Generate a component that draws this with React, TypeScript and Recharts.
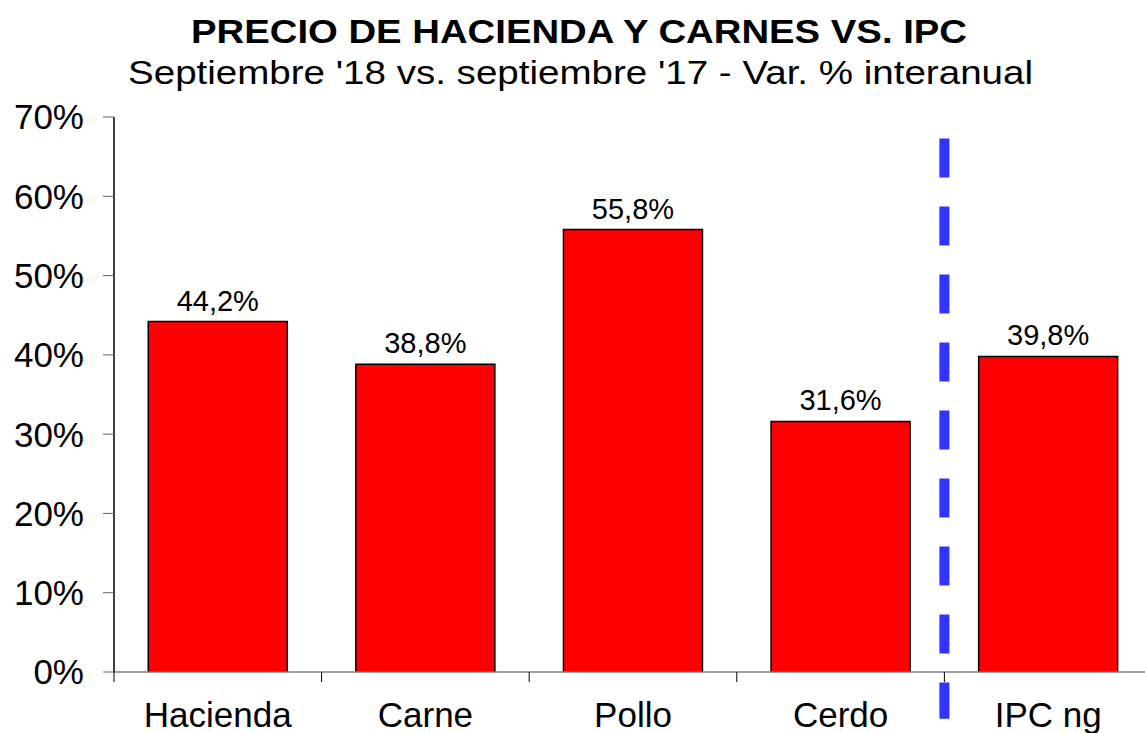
import React from "react";
import { BarChart, Bar, XAxis, YAxis, LabelList, ReferenceLine } from "recharts";

const CATEGORIES = ["Hacienda", "Carne", "Pollo", "Cerdo", "IPC ng"];
const VAR_INTERANUAL = [44.2, 38.8, 55.8, 31.6, 39.8];
const Y_TICKS = [0, 10, 20, 30, 40, 50, 60, 70];

// separador punteado antes de "IPC ng" (de 67,3% hasta por debajo del eje)
const DIVIDER_AT = "IPC ng";
const DIVIDER_RANGE = [67.3, -5.9];

const TITLE = "PRECIO DE HACIENDA Y CARNES VS. IPC";
const SUBTITLE = "Septiembre '18 vs. septiembre '17 - Var. % interanual";

const FONT = "'Liberation Sans', Arial, Helvetica, sans-serif";
const TICK_SIZE = 10;
const TICK_MARGIN = 20;

const data = CATEGORIES.map((name, i) => ({ name, value: VAR_INTERANUAL[i] }));

const fmtPct = (v: number) => v.toFixed(1).replace(".", ",") + "%";

// Etiqueta de categoría + marcas del eje en los límites entre categorías
function CategoryTick(props: any) {
  const { x, y, payload, index, visibleTicksCount } = props;
  const half = payload?.offset ?? 0;
  const axisY = y - TICK_SIZE - TICK_MARGIN;
  const isLast = index === visibleTicksCount - 1;
  return (
    <g>
      <line x1={x - half} x2={x - half} y1={axisY} y2={axisY + TICK_SIZE} stroke="#000" />
      {isLast && (
        <line x1={x + half} x2={x + half} y1={axisY} y2={axisY + TICK_SIZE} stroke="#000" />
      )}
      <text
        x={x}
        y={y}
        dy="0.71em"
        textAnchor="middle"
        fontSize={35}
        fontFamily={FONT}
        fill="#000"
      >
        {payload.value}
      </text>
    </g>
  );
}

export default function App() {
  return (
    <div
      style={{
        position: "relative",
        width: 1145,
        height: 733,
        overflow: "hidden",
        background: "#fff",
        fontFamily: FONT,
      }}
    >
      <style>{"body{margin:0;overflow:hidden}"}</style>
      <div style={{ position: "absolute", left: 0, top: 0 }}>
        <BarChart
          width={1152}
          height={733}
          data={data}
          margin={{ top: 117, right: 0, bottom: 0, left: 0 }}
          barCategoryGap="16.5%"
        >
          <XAxis
            dataKey="name"
            height={61}
            axisLine={{ stroke: "#808080", strokeWidth: 1.5 }}
            tickLine={false}
            tickSize={TICK_SIZE}
            tickMargin={TICK_MARGIN}
            tick={<CategoryTick />}
            interval={0}
          />
          <YAxis
            width={114}
            domain={[0, 70]}
            ticks={Y_TICKS}
            tickFormatter={(v: number) => `${v}%`}
            axisLine={{ stroke: "#000", strokeWidth: 1.5 }}
            tickLine={{ stroke: "#666" }}
            tickSize={11}
            tickMargin={19}
            tick={{ fontSize: 35, fill: "#000", fontFamily: FONT }}
            allowDataOverflow
          />
          <Bar
            dataKey="value"
            fill="#FF0000"
            stroke="#000"
            strokeWidth={1.5}
            isAnimationActive={false}
          >
            <LabelList
              dataKey="value"
              position="top"
              offset={11}
              formatter={(v: any) => fmtPct(Number(v))}
              fill="#000"
              fontSize={29}
              fontFamily={FONT}
            />
          </Bar>
          <ReferenceLine
            segment={[
              { x: DIVIDER_AT, y: DIVIDER_RANGE[0] },
              { x: DIVIDER_AT, y: DIVIDER_RANGE[1] },
            ]}
            position="start"
            ifOverflow="visible"
            stroke="#3333FF"
            strokeWidth={10}
            strokeDasharray="39 29"
          />
        </BarChart>
      </div>
      <svg
        width={1145}
        height={100}
        style={{ position: "absolute", left: 0, top: 0 }}
      >
        <text
          x={191}
          y={43}
          fontSize={34}
          fontWeight="bold"
          fontFamily={FONT}
          textLength={776}
          lengthAdjust="spacingAndGlyphs"
          fill="#000"
        >
          {TITLE}
        </text>
        <text
          x={128}
          y={84}
          fontSize={34}
          fontFamily={FONT}
          textLength={905}
          lengthAdjust="spacingAndGlyphs"
          fill="#000"
        >
          {SUBTITLE}
        </text>
      </svg>
    </div>
  );
}
